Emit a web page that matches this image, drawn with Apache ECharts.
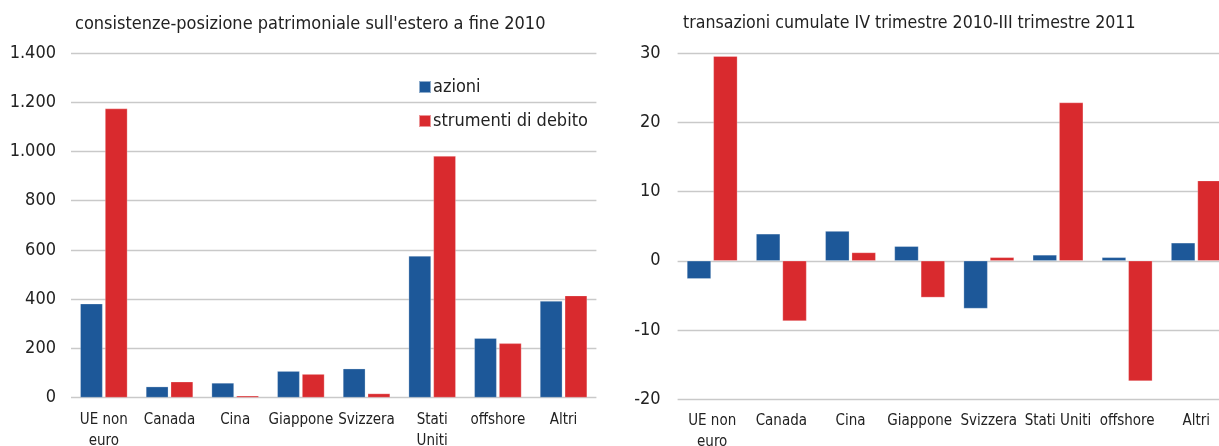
<!DOCTYPE html>
<html>
<head>
<meta charset="utf-8">
<script src="https://cdn.jsdelivr.net/npm/echarts@6/dist/echarts.min.js"></script>
<style>
html,body{margin:0;padding:0;overflow:hidden;background:#fff;width:1219px;height:446px;}
#c{width:1240px;height:446px;}
</style>
</head>
<body>
<div id="c"></div>
<script>
const categoriesLeft = ['UE non\neuro','Canada','Cina','Giappone','Svizzera','Stati\nUniti','offshore','Altri'];
const categoriesRight = ['UE non\neuro','Canada','Cina','Giappone','Svizzera','Stati Uniti','offshore','Altri'];
const seriesNames = ['azioni','strumenti di debito'];
const stockAzioni = [381, 44, 59, 107, 117, 575, 241, 392];
const stockDebito = [1174, 64, 7, 95, 16, 981, 220, 414];
const flowAzioni = [-2.6, 3.9, 4.3, 2.1, -6.9, 0.85, 0.5, 2.6];
const flowDebito = [29.6, -8.7, 1.2, -5.3, 0.5, 22.9, -17.4, 11.6];
const leftTicks = {min: 0, max: 1400, interval: 200};
const rightTicks = {min: -20, max: 30, interval: 10};
const titles = ["consistenze-posizione patrimoniale sull'estero a fine 2010", "transazioni cumulate IV trimestre 2010-III trimestre 2011"];

const FONT = '"Liberation Sans Narrow", "DejaVu Sans Condensed", sans-serif';
const BLUE = '#1d5899';
const RED = '#d92a2e';
const GRID = '#c9c9c9';

function fmtThousands(v){
  return String(v).replace(/\B(?=(\d{3})+(?!\d))/g, '.');
}

const chart = echarts.init(document.getElementById('c'), null, {renderer:'canvas'});
const xAxisCommon = {
  type:'category',
  axisLine:{show:false, onZero:false},
  axisTick:{show:false},
  splitLine:{show:false},
  axisLabel:{fontFamily:FONT, fontSize:15, color:'#222', margin:12, lineHeight:21, interval:0}
};
const yAxisCommon = {
  type:'value',
  axisLine:{show:false},
  axisTick:{show:false},
  splitLine:{show:true, lineStyle:{color:GRID, width:1.3}},
  axisLabel:{fontFamily:FONT, fontSize:18, color:'#222'}
};
chart.setOption({
  animation:false,
  textStyle:{fontFamily:FONT},
  title:[
    {text:titles[0], left:75, top:15, padding:0, textStyle:{fontFamily:FONT, fontSize:18, fontWeight:'normal', color:'#222'}},
    {text:titles[1], left:683, top:14, padding:0, textStyle:{fontFamily:FONT, fontSize:17.6, fontWeight:'normal', color:'#222'}}
  ],
  legend:{
    data:seriesNames,
    orient:'vertical',
    left:418, top:78, padding:0,
    itemWidth:12, itemHeight:12, itemGap:16,
    icon:'rect',
    textStyle:{fontFamily:FONT, fontSize:18, color:'#222', padding:[0,0,0,-3]}
  },
  grid:[
    {left:71, right:1240-596.4, top:53, bottom:446-397.5, outerBoundsMode:'none', containLabel:false},
    {left:677.6, right:1240-1230.9, top:53.5, bottom:446-399, outerBoundsMode:'none', containLabel:false}
  ],
  xAxis:[
    Object.assign({}, xAxisCommon, {gridIndex:0, data:categoriesLeft}),
    Object.assign({}, xAxisCommon, {gridIndex:1, data:categoriesRight})
  ],
  yAxis:[
    Object.assign({}, yAxisCommon, {gridIndex:0, min:leftTicks.min, max:leftTicks.max, interval:leftTicks.interval,
      axisLabel:Object.assign({}, yAxisCommon.axisLabel, {margin:15, formatter:fmtThousands})}),
    Object.assign({}, yAxisCommon, {gridIndex:1, min:rightTicks.min, max:rightTicks.max, interval:rightTicks.interval,
      axisLabel:Object.assign({}, yAxisCommon.axisLabel, {margin:17})})
  ],
  series:[
    {name:seriesNames[0], type:'bar', xAxisIndex:0, yAxisIndex:0, data:stockAzioni, barWidth:'34%', barGap:'11%', itemStyle:{color:BLUE, borderColor:'rgba(255,255,255,0.5)', borderWidth:0.5}},
    {name:seriesNames[1], type:'bar', xAxisIndex:0, yAxisIndex:0, data:stockDebito, barWidth:'34%', barGap:'11%', itemStyle:{color:RED, borderColor:'rgba(255,255,255,0.5)', borderWidth:0.5}},
    {name:seriesNames[0], type:'bar', xAxisIndex:1, yAxisIndex:1, data:flowAzioni, barWidth:'34.7%', barGap:'10%', itemStyle:{color:BLUE, borderColor:'rgba(255,255,255,0.5)', borderWidth:0.5}},
    {name:seriesNames[1], type:'bar', xAxisIndex:1, yAxisIndex:1, data:flowDebito, barWidth:'34.7%', barGap:'10%', itemStyle:{color:RED, borderColor:'rgba(255,255,255,0.5)', borderWidth:0.5}}
  ]
});
</script>
</body>
</html>
